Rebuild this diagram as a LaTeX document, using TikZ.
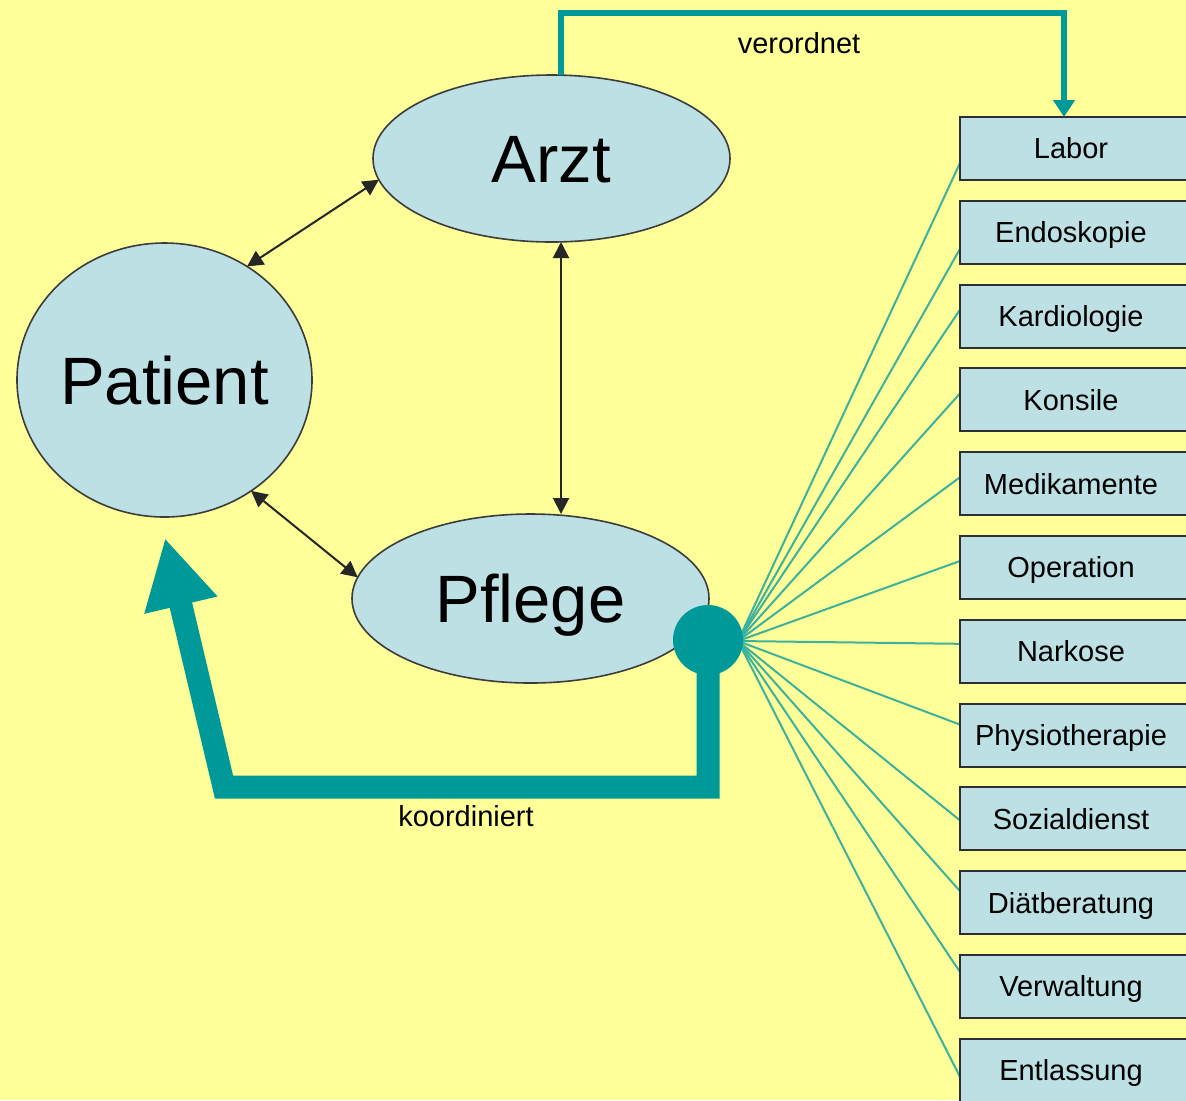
\documentclass[tikz,border=0pt]{standalone}
\usepackage{fontspec}
\setmainfont{Liberation Sans}
\usetikzlibrary{arrows.meta,calc,shapes.geometric}
\definecolor{bgyellow}{RGB}{255,255,153}
\definecolor{nodeblue}{RGB}{188,224,228}
\definecolor{teal}{RGB}{0,153,153}
\definecolor{fanline}{RGB}{60,178,158}
\definecolor{edgegray}{RGB}{60,60,60}
\definecolor{boxedge}{RGB}{45,45,55}
\pgfdeclarelayer{bgl}
\pgfdeclarelayer{back}
\pgfsetlayers{bgl,back,main}
\begin{document}
\begin{tikzpicture}[x=0.5pt,y=-0.5pt,
  bignode/.style={ellipse, draw=edgegray, line width=0.8pt, fill=nodeblue, inner sep=0pt, outer sep=0pt,
     font=\fontsize{33.5pt}{40pt}\selectfont, text height=24pt, text depth=0pt},
  depbox/.style={rectangle, draw=boxedge, line width=1pt, fill=nodeblue, anchor=north west,
     minimum width=120pt, minimum height=31.5pt, inner sep=0pt, outer sep=0pt,
     font=\fontsize{14.5pt}{17pt}\selectfont, text height=10.4pt, text depth=0pt},
  smalltext/.style={font=\fontsize{14.5pt}{17pt}\selectfont, inner sep=0pt},
  dbl/.style={line width=1pt, draw=black!85, {Triangle[length=8pt,width=8pt]}-{Triangle[length=8pt,width=8pt]}},
  fan/.style={line width=1pt, draw=fanline},
  verord/.style={line width=3pt, draw=teal, -{Triangle[length=8.5pt,width=10.5pt]}},
  koord/.style={line width=11.5pt, draw=teal, line join=miter, -{Triangle[length=34.5pt,width=35pt]}}
]
\useasboundingbox (0,0) rectangle (1186,1100);
\begin{pgfonlayer}{bgl}
\fill[bgyellow] (0,0) rectangle (1186,1100);
\end{pgfonlayer}
\clip (0,0) rectangle (1186,1100);

% main nodes
\node[bignode, minimum width=147.5pt, minimum height=137pt] (patient) at (164.5,380) {Patient};
\node[bignode, minimum width=178.5pt, minimum height=83.5pt] (arzt) at (551.5,158.5) {Arzt};
\node[bignode, minimum width=178.5pt, minimum height=84.5pt] (pflege) at (530.5,598.5) {Pflege};

% department boxes
\foreach \lab/\off [count=\i] in {Labor/46,Endoskopie/48,Kardiologie/25,Konsile/25,Medikamente/25,Operation/25,Narkose/24,Physiotherapie/21,Sozialdienst/33,Diätberatung/20,Verwaltung/17,Entlassung/38}{
  \pgfmathsetmacro\yy{117+83.8*(\i-1)}
  \node[depbox] (b\i) at (960,\yy) {\kern-9pt\relax\lab};
}

% coordination dot and hub
\node[circle, fill=teal, minimum size=35pt, inner sep=0pt, outer sep=0pt] (dot) at (708,640) {};
\coordinate (hub) at (738,641);

% fan lines
\begin{pgfonlayer}{back}
\foreach \off [count=\i] in {46,48,25,25,25,25,24,21,33,20,17,38}{
  \draw[fan] (hub) -- ($(b\i.north west)+(0,\off)$);
}
\end{pgfonlayer}

% double arrows
\draw[dbl] (patient.54.5) -- (arzt.187.7);
\draw[dbl] (patient.-52.9) -- (pflege.173.2);
\draw[dbl] ($(arzt.south)+(9.5,0)$) -- ($(pflege.north)+(30.5,0)$);

% verordnet
\coordinate (vtop) at (1064,13);
\draw[verord] ($(arzt.north)+(9.5,0)$) |- (vtop) -- (vtop |- b1.north);
\node[smalltext] (tverord) at (799,43) {verordnet};

% koordiniert
\coordinate (kcorner) at (224,787);
\coordinate (ktip) at (165,538);
\draw[koord] (dot.center) -- (dot.center |- kcorner) -- (kcorner) -- (ktip);
\node[smalltext] (tkoord) at (466,816) {koordiniert};
\end{tikzpicture}
\end{document}
